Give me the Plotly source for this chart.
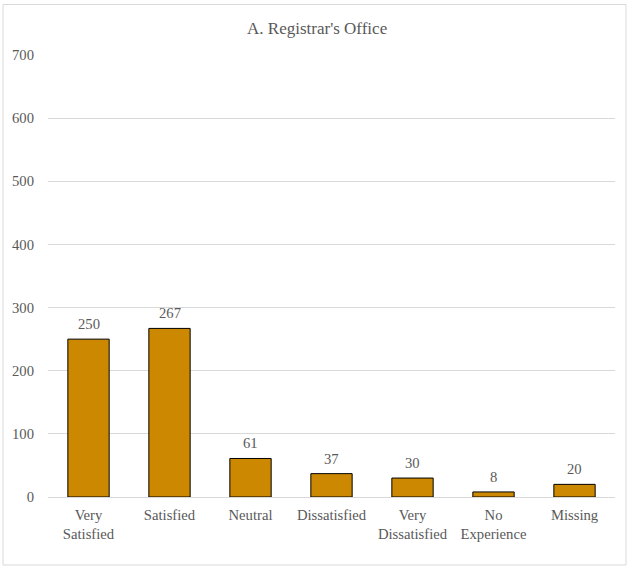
import plotly.graph_objects as go

categories = ["Very<br>Satisfied", "Satisfied", "Neutral", "Dissatisfied",
              "Very<br>Dissatisfied", "No<br>Experience", "Missing"]
counts = [250, 267, 61, 37, 30, 8, 20]
y_ticks = [0, 100, 200, 300, 400, 500, 600, 700]

FONT = "Liberation Serif"
TXT = "#595959"
FS = 14.67

fig = go.Figure(go.Bar(
    x=categories, y=counts,
    marker=dict(color="#CC8800", line=dict(color="#000000", width=1)),
    hoverinfo="x+y",
))

for c, v in zip(categories, counts):
    fig.add_annotation(x=c, y=v, text=str(v), showarrow=False,
                       yanchor="middle", yshift=15,
                       font=dict(family=FONT, size=FS, color=TXT))

fig.update_layout(
    width=628, height=566,
    margin=dict(l=48, r=13, t=55, b=69),
    paper_bgcolor="white", plot_bgcolor="white",
    font=dict(family=FONT, size=FS, color=TXT),
    title=dict(text="A. Registrar's Office", x=0.505, xanchor="center",
               y=1 - 28 / 566, yanchor="middle",
               font=dict(family=FONT, size=17, color=TXT)),
    bargap=0.49,
    showlegend=False,
    xaxis=dict(showline=True, linecolor="#d9d9d9", linewidth=1,
               tickfont=dict(family=FONT, size=FS, color=TXT), ticks="",
               ticklabelstandoff=4),
    yaxis=dict(range=[0, 700], tickvals=y_ticks, showgrid=True,
               gridcolor="#d9d9d9", gridwidth=1, zeroline=False,
               tickfont=dict(family=FONT, size=FS, color=TXT), ticks="",
               ticklabelstandoff=13),
    shapes=[dict(type="rect", xref="paper", yref="paper",
                 x0=(3 - 48) / 567, x1=(626 - 48) / 567,
                 y0=(497 - 565) / 442, y1=(497 - 4.5) / 442,
                 line=dict(color="#d9d9d9", width=1), fillcolor="rgba(0,0,0,0)",
                 layer="below")],
)

fig.write_html("out.html", config={"displayModeBar": False},
               post_script="document.body.style.margin='0';")
